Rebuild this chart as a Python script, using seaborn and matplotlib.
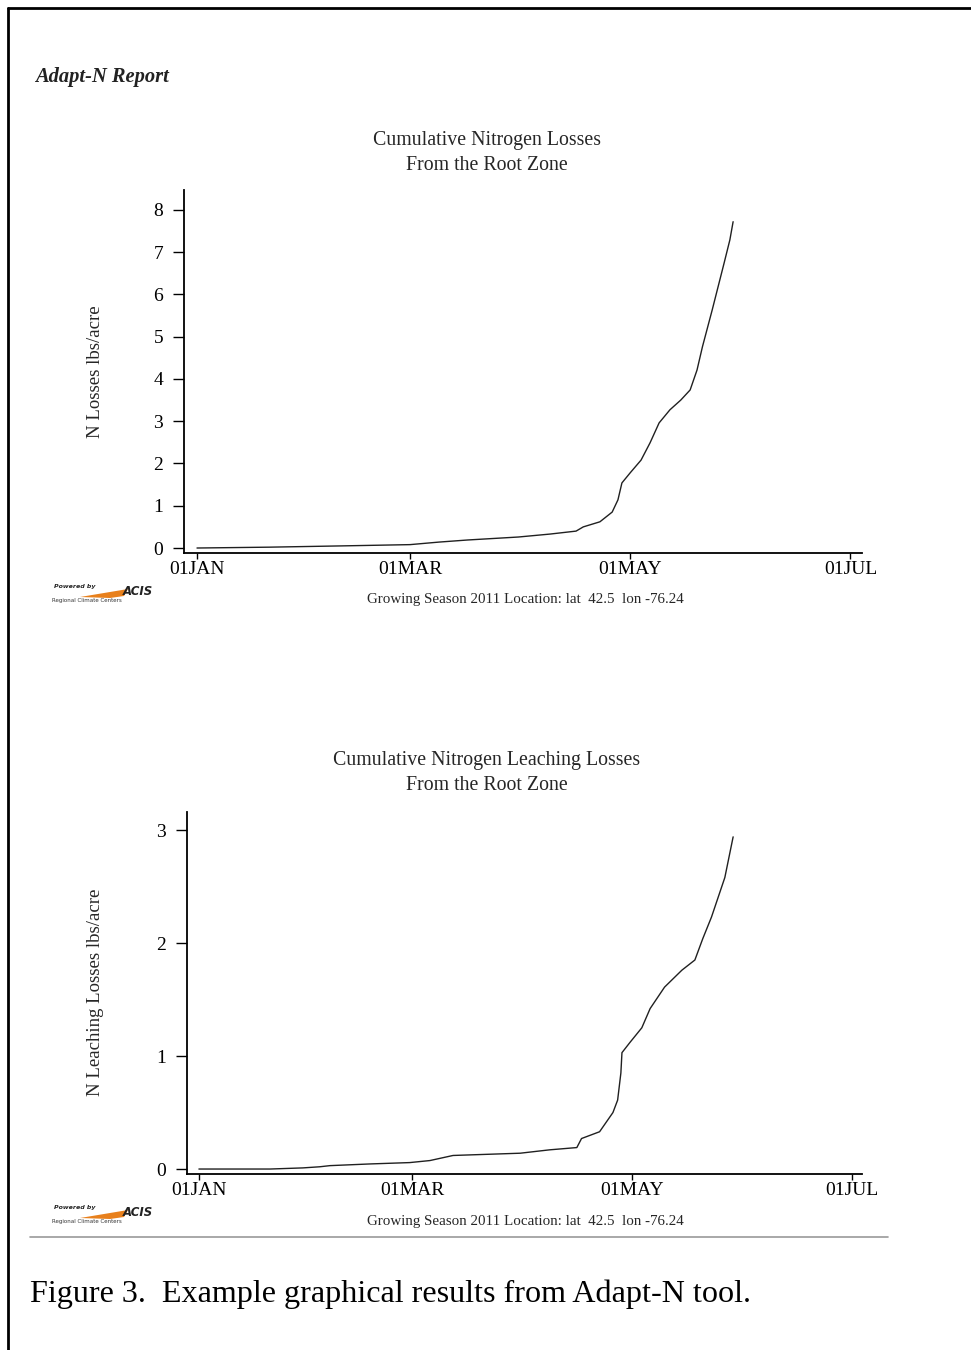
import matplotlib
matplotlib.use("Agg")
import matplotlib.pyplot as plt
import seaborn as sns
import pandas as pd
from matplotlib.lines import Line2D
from matplotlib.patches import Polygon

sns.set_theme(style="ticks")
plt.rcParams["font.family"] = ["Liberation Serif", "DejaVu Serif"]

# day of year 2011 (0 = 01JAN)
tick_days = [0, 59, 120, 181]
tick_labels = ["01JAN", "01MAR", "01MAY", "01JUL"]

# cumulative N losses (lbs/acre)
loss_days = [0, 20, 40, 59, 67, 75, 89, 97.8, 105, 107, 111.6, 115, 116.6, 117.7,
             120, 123, 125.5, 128, 131, 134, 136.6, 138.5, 140, 142.7, 146, 147.6, 148.5]
loss_vals = [0.0, 0.02, 0.05, 0.08, 0.14, 0.19, 0.26, 0.33, 0.40, 0.50, 0.62, 0.85, 1.14,
             1.54, 1.78, 2.08, 2.49, 2.96, 3.27, 3.50, 3.74, 4.21, 4.76, 5.63, 6.74, 7.29, 7.72]

# cumulative N leaching losses (lbs/acre)
leach_days = [0, 19.7, 28.8, 33.5, 36.3, 47.4, 58.4, 64, 70.4, 75, 89, 97.2, 104.7, 106,
              111, 114.7, 116, 116.9, 117.2, 119.4, 122.7, 125, 129, 133.8, 137.4, 139.6,
              142, 145.7, 148]
leach_vals = [0.0, 0.0, 0.01, 0.02, 0.03, 0.045, 0.057, 0.075, 0.12, 0.125, 0.14, 0.17,
              0.19, 0.27, 0.33, 0.50, 0.61, 0.85, 1.03, 1.12, 1.25, 1.42, 1.61, 1.76, 1.85,
              2.04, 2.23, 2.58, 2.94]

footer = "Growing Season 2011 Location: lat  42.5  lon -76.24"

W, H = 971, 1350
fig = plt.figure(figsize=(W / 100, H / 100), dpi=100)
fig.patch.set_facecolor("white")


def fx(px):
    return px / W


def fy(py):
    return 1 - py / H


def panel(rect, days, vals, yticks, ylim, xlim, ylabel, ylabel_y, titles, title_y, footer_y):
    ax = fig.add_axes(rect)
    df = pd.DataFrame({"day": days, "val": vals})
    sns.lineplot(data=df, x="day", y="val", ax=ax, color="#202020", linewidth=1.0)
    ax.set_facecolor("white")
    ax.set_xlim(xlim)
    ax.set_ylim(ylim)
    ax.set_xticks(tick_days)
    ax.set_xticklabels(tick_labels)
    ax.set_yticks(yticks)
    ax.set_xlabel("")
    ax.set_ylabel("")
    for s in ["top", "right"]:
        ax.spines[s].set_visible(False)
    for s in ["left", "bottom"]:
        ax.spines[s].set_color("black")
        ax.spines[s].set_linewidth(1.3)
    ax.tick_params(axis="y", direction="out", length=8, width=1.0, pad=7,
                   labelsize=14, colors="black")
    ax.tick_params(axis="x", direction="out", length=4, width=1.0, pad=2,
                   labelsize=14, colors="black")
    ax.grid(False)
    fig.text(fx(95), fy(ylabel_y), ylabel, rotation=90, ha="center", va="center",
             fontsize=13.5)
    fig.text(fx(487), fy(title_y), titles, ha="center", va="center", fontsize=14.3,
             linespacing=1.4)
    fig.text(fx(525), fy(footer_y), footer, ha="center", va="center", fontsize=10.8)
    return ax


panel([fx(184), fy(553), fx(862) - fx(184), fy(190) - fy(553)],
      loss_days, loss_vals, list(range(9)), (-0.118, 8.47), (-3.6, 184.2),
      "N Losses lbs/acre", 372,
      "Cumulative Nitrogen Losses\nFrom the Root Zone", 153, 600)

panel([fx(187), fy(1174), fx(862) - fx(187), fy(812) - fy(1174)],
      leach_days, leach_vals, [0, 1, 2, 3], (-0.044, 3.16), (-3.3, 183.7),
      "N Leaching Losses lbs/acre", 992,
      "Cumulative Nitrogen Leaching Losses\nFrom the Root Zone", 773, 1221)


def logo(y0):
    # small "Powered by ACIS" badge
    fig.text(fx(54), fy(y0), "Powered by", fontsize=4.5, style="italic",
             weight="bold", va="center", family=["DejaVu Sans"])
    swoosh = Polygon([(fx(80), fy(y0 + 10)), (fx(128), fy(y0 + 2)),
                      (fx(124), fy(y0 + 9)), (fx(110), fy(y0 + 11))],
                     closed=True, transform=fig.transFigure, facecolor="#e8801c",
                     edgecolor="none")
    fig.patches.append(swoosh)
    fig.text(fx(123), fy(y0 + 4), "ACIS", fontsize=8.5, style="italic",
             weight="bold", va="center", color="#222222", family=["DejaVu Sans"])
    fig.text(fx(52), fy(y0 + 14), "Regional Climate Centers", fontsize=4,
             va="center", color="#333333", family=["DejaVu Sans"])


logo(587)
logo(1208)

fig.text(fx(35), fy(77), "Adapt-N Report", fontsize=14.8, style="italic",
         weight="bold", va="center", color="#222222")

fig.lines.append(Line2D([fx(30), fx(888)], [fy(1237), fy(1237)],
                        transform=fig.transFigure, color="#9a9a9a", linewidth=1.2))

fig.text(fx(30), fy(1294), "Figure 3.  Example graphical results from Adapt-N tool.",
         fontsize=23.1, va="center", color="black")

# page border (left and top)
fig.lines.append(Line2D([fx(8), fx(971)], [fy(8), fy(8)], transform=fig.transFigure,
                        color="black", linewidth=2))
fig.lines.append(Line2D([fx(8), fx(8)], [fy(8), fy(1350)], transform=fig.transFigure,
                        color="black", linewidth=2))

fig.savefig("out.png", dpi=100, facecolor="white")
